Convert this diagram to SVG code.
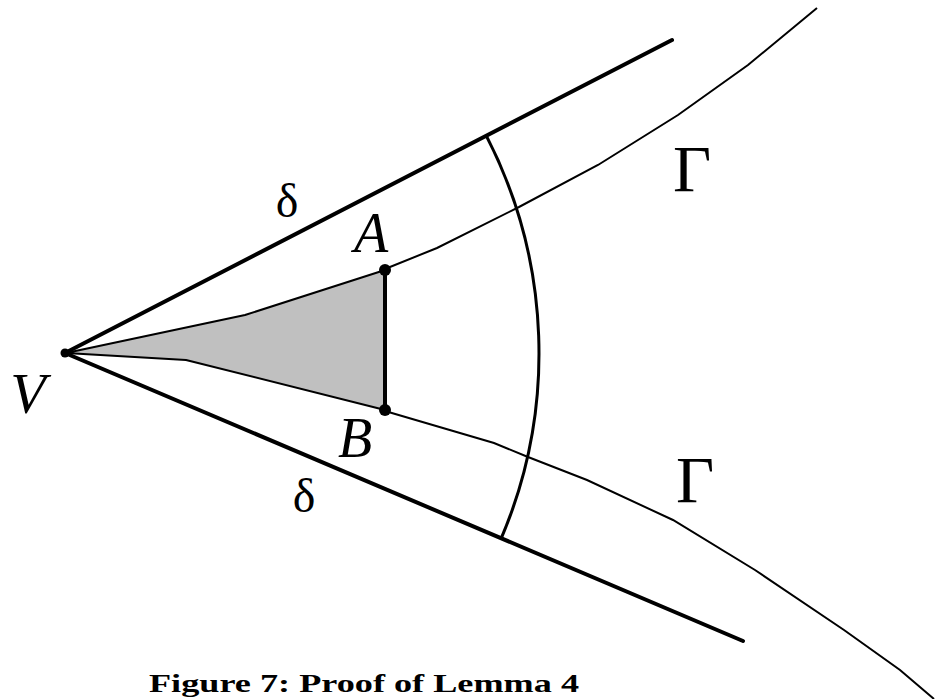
<svg xmlns="http://www.w3.org/2000/svg" width="937" height="699" viewBox="0 0 937 699">
<style>
.bold{stroke:#000;stroke-width:4;fill:none;stroke-linecap:round}
.thin{stroke:#000;stroke-width:2;fill:none}
.arc{stroke:#000;stroke-width:3;fill:none}
.it{font-family:"Liberation Serif","Times New Roman",serif;font-style:italic;fill:#000;text-anchor:middle}
.up{font-family:"Liberation Serif","Times New Roman",serif;fill:#000;text-anchor:middle}
.cap{font-family:"Liberation Serif","Times New Roman",serif;font-weight:bold;fill:#000}
</style>
<rect width="937" height="699" fill="#fff"/>
<g id="region">
<polygon points="66,353 245,315 385,270 385,410 186,360" fill="#c0c0c0" stroke="#000" stroke-width="2" stroke-linejoin="round"/>
<line x1="385" y1="270" x2="385" y2="410" class="bold"/>
</g>
<g id="connectors">
<line x1="65" y1="353" x2="672" y2="40" class="bold"/>
<line x1="65" y1="353" x2="743" y2="641" class="bold"/>
<path d="M486.3 135.8 A474 474 0 0 1 501 538.9" class="arc"/>
<polyline points="385,269 437,248 519,207 598,165 678,115 748,65 817,8" class="thin"/>
<polyline points="385,411 494,443 528,457 587,480 673,520 755,570 844,630 900,670 934,699" class="thin"/>
</g>
<g id="V">
<circle cx="65" cy="353" r="4.5" fill="#000"/>
<text x="28" y="413" class="it" font-size="58">V</text>
</g>
<g id="A">
<circle cx="385" cy="270" r="6" fill="#000"/>
<text x="371" y="252" class="it" font-size="56">A</text>
</g>
<g id="B">
<circle cx="385" cy="410" r="6" fill="#000"/>
<text x="355" y="457" class="it" font-size="56">B</text>
</g>
<g id="labels">
<text x="287" y="217" class="up" font-size="48">δ</text>
<text x="304" y="512" class="up" font-size="48">δ</text>
<text x="692" y="191" class="up" font-size="66">Γ</text>
<text x="695" y="502" class="up" font-size="66">Γ</text>
</g>
<g id="caption">
<text x="149" y="692" class="cap" font-size="26" textLength="430" lengthAdjust="spacingAndGlyphs">Figure 7: Proof of Lemma 4</text>
</g>
</svg>
